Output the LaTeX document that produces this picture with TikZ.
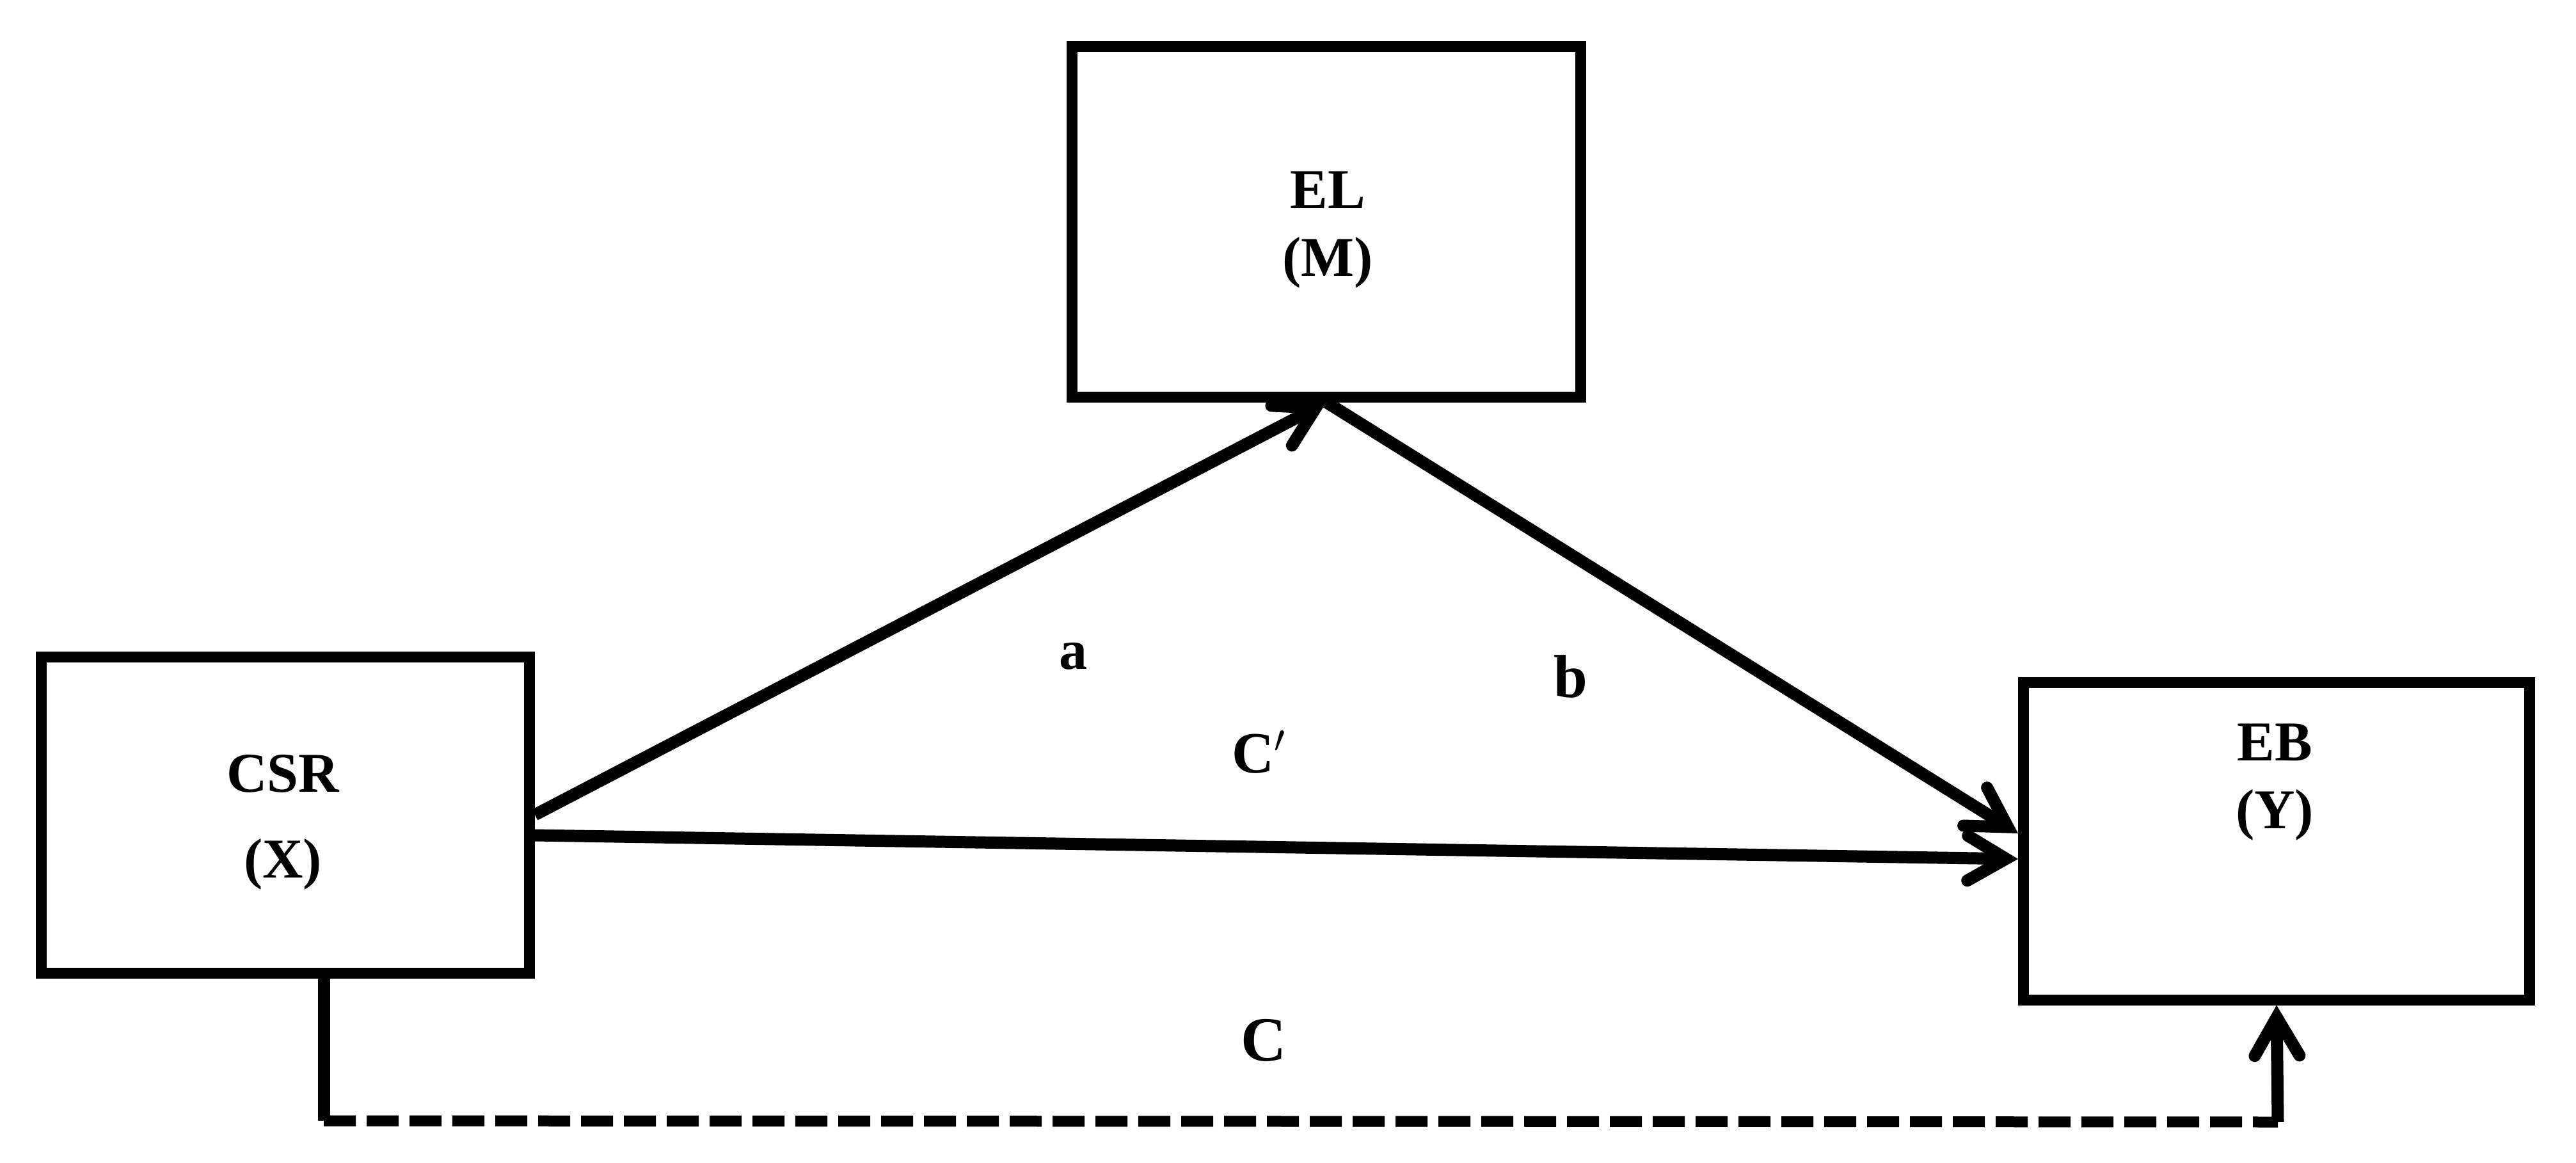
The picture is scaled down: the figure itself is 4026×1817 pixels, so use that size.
\documentclass[tikz,border=0pt]{standalone}
\usepackage{fontspec}
\setmainfont{Liberation Serif}
\usetikzlibrary{arrows.meta,calc,positioning}

\tikzset{
  varbox/.style={draw, line width=1.7mm, inner sep=0pt},
  vartext/.style={inner sep=0pt, align=center, font=\fontsize{25}{30}\selectfont\bfseries},
  pathline/.style={line width=1.9mm},
  patharrow/.style={line width=1.9mm, -{Straight Barb[length=6mm,width=7mm,line cap=round]}},
  pathlbl/.style={inner sep=0pt, font=\fontsize{26}{30}\selectfont\bfseries}
}

\begin{document}
\begin{tikzpicture}[x=0.1mm, y=-0.1mm]
  \useasboundingbox (0,0) rectangle (4026,1817);
  % boxes
  \node[varbox, minimum width=79.5mm, minimum height=54.8mm] (el) at (2073,346) {};
  \node[varbox, minimum width=76.3mm, minimum height=49.4mm] (csr) at (446,1273) {};
  \node[varbox, minimum width=79.1mm, minimum height=49.6mm] (eb) at (3558,1314) {};
  \node[vartext] (eltext) at (2075,359) {EL\\(M)};
  \node[vartext, font=\fontsize{25}{38}\selectfont\bfseries] (csrtext) at (442,1285) {CSR\\(X)};
  \node[vartext] (ebtext) at (3555,1222) {EB\\(Y)};
  % paths
  \draw[patharrow] (csr.east) -- (el.south);
  \draw[patharrow] (el.south) -- ($(eb.west)+(0,-12)$);
  \draw[patharrow] ($(csr.east)+(0,32)$) -- ($(eb.west)+(0,28)$);
  % total effect
  \coordinate (dl) at (506,1751);
  \coordinate (dr) at (3560,1753);
  \draw[pathline] ($(csr.south)+(60,0)$) -- (dl);
  \draw[pathline, line width=1.7mm, dash pattern=on 5mm off 1.7mm] (dl) -- (dr);
  \draw[patharrow] (dr) -- (eb.south);
  % labels
  \node[pathlbl, font=\fontsize{25}{30}\selectfont\bfseries] (la) at (1677,1025) {a};
  \node[pathlbl, font=\fontsize{27}{30}\selectfont\bfseries] (lb) at (2455,1057) {b};
  \node[pathlbl] (lc1) at (1968,1175) {C$'$};
  \node[pathlbl, font=\fontsize{28}{30}\selectfont\bfseries] (lc) at (1975,1625) {C};
\end{tikzpicture}
\end{document}
